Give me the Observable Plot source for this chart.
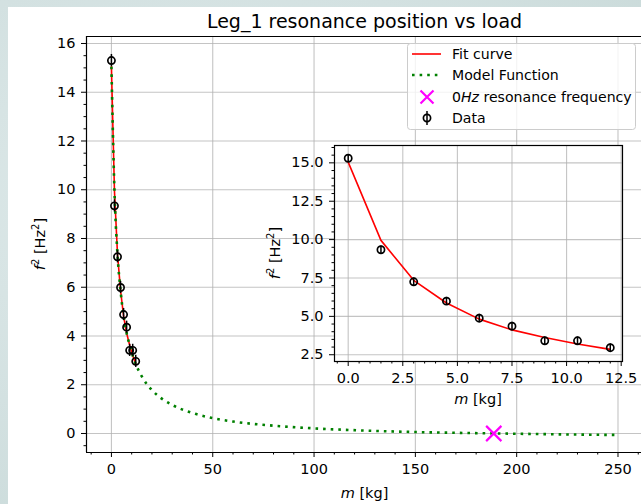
<!DOCTYPE html>
<html>
<head>
<meta charset="utf-8">
<script src="https://cdn.jsdelivr.net/npm/d3@7"></script>
<script src="https://cdn.jsdelivr.net/npm/@observablehq/plot@0.6"></script>
<style>
  html, body { margin: 0; padding: 0; }
  body {
    width: 641px; height: 504px; overflow: hidden; position: relative;
    background: radial-gradient(ellipse at 30% 40%, #dfeaea 0%, #d3e1e1 55%, #c8d9d8 100%);
    font-family: "DejaVu Sans", sans-serif;
  }
  #card { position: absolute; left: 8px; top: 7px; width: 633px; height: 497px; background: #ffffff; }
  .layer { position: absolute; left: 0; top: 0; }
</style>
</head>
<body>
<div id="card"></div>
<div id="main" class="layer"></div>
<div id="inset" class="layer"></div>
<script>
// ---------- data ----------
const mass = [0, 1.5, 3, 4.5, 6, 7.5, 9, 10.5, 12];                 // m [kg]
const f2 = [15.3, 9.34, 7.25, 5.99, 4.88, 4.36, 3.41, 3.41, 2.96];   // measured f^2 [Hz^2]
const f2Err = [0.25, 0.25, 0.25, 0.25, 0.25, 0.25, 0.25, 0.25, 0.25];
const fitF2 = [15.05, 9.95, 7.35, 5.87, 4.82, 4.12, 3.62, 3.2, 2.85]; // fit curve at data masses
const modelMass = [0, 1.5, 3, 4.5, 6, 7.5, 9, 10.5, 12, 15, 20, 25, 30, 40, 50, 60, 80, 100, 125, 150, 175, 200, 225, 250];
const modelF2 = [15.05, 9.95, 7.35, 5.87, 4.82, 4.12, 3.62, 3.2, 2.85, 2.34, 1.78, 1.42, 1.17, 0.84, 0.63, 0.49, 0.32, 0.21, 0.12, 0.06, 0.02, -0.01, -0.04, -0.06];
const zeroMass = [188.7];
const zeroF2 = [0];

const mainXTicks = [0, 50, 100, 150, 200, 250];
const mainYTicks = [0, 2, 4, 6, 8, 10, 12, 14, 16];
const insetXTicks = [0, 2.5, 5, 7.5, 10, 12.5];
const insetYTicks = [2.5, 5, 7.5, 10, 12.5, 15];

const titleText = "Leg_1 resonance position vs load";
const legendLabels = ["Fit curve", "Model Function", "resonance frequency", "Data"];

// ---------- derived tables ----------
const data = mass.map((m, i) => ({m, f: f2[i], e: f2Err[i]}));
const fit = mass.map((m, i) => ({m, f: fitF2[i]}));
const model = modelMass.map((m, i) => ({m, f: modelF2[i]}));
const zero = zeroMass.map((m, i) => ({m, f: zeroF2[i]}));

const W = 641, H = 504;
const FONT = "DejaVu Sans, sans-serif";
const FS = 14.5;
const LFS = 14.1;
const gridStyle = {stroke: "#b0b0b0", strokeOpacity: 0.75, strokeWidth: 1.1};

// ---------- main axes ----------
const mxDom = [-12.3, 261.6], myDom = [-0.78, 16.287];
const mainMinorX = d3.range(-10, 262, 10).filter(v => v % 50 !== 0);
const mainMinorY = d3.range(-0.5, 16.3, 0.5).filter(v => Math.abs(v % 2) > 1e-9);

const main = Plot.plot({
  width: W, height: H,
  marginLeft: 86, marginRight: 0, marginTop: 36, marginBottom: 52,
  style: {fontFamily: FONT, fontSize: FS + "px", background: "transparent", color: "#000", overflow: "visible"},
  x: {domain: mxDom, label: null},
  y: {domain: myDom, label: null},
  marks: [
    Plot.gridX(mainXTicks, gridStyle),
    Plot.gridY(mainYTicks, gridStyle),
    Plot.line(fit, {x: "m", y: "f", stroke: "#ff0000", strokeWidth: 1.6}),
    Plot.line(model, {x: "m", y: "f", stroke: "#008000", strokeWidth: 2.6, strokeDasharray: "2.6,5", strokeLinecap: "butt", curve: "monotone-x"}),
    Plot.dot(zero, {x: "m", y: "f", symbol: "times", r: 7, stroke: "#ff00ff", strokeWidth: 2.2}),
    Plot.ruleX(data, {x: "m", y1: d => d.f - d.e, y2: d => d.f + d.e, stroke: "#000", strokeWidth: 1.5}),
    Plot.dot(data, {x: "m", y: "f", r: 3.6, stroke: "#000", strokeWidth: 1.7}),
    Plot.ruleX([mxDom[0]], {stroke: "#000", strokeWidth: 1.2}),
    Plot.ruleY([myDom[0], myDom[1]], {stroke: "#000", strokeWidth: 1.2}),
    Plot.axisX(mainXTicks, {tickSize: 5, tickPadding: 6, stroke: "#000", fontSize: FS}),
    Plot.axisX(mainMinorX, {tickSize: 2.5, tickFormat: () => "", stroke: "#000"}),
    Plot.axisY(mainYTicks, {tickSize: 5, tickPadding: 6, stroke: "#000", fontSize: FS}),
    Plot.axisY(mainMinorY, {tickSize: 2.5, tickFormat: () => "", stroke: "#000"})
  ]
});
document.getElementById("main").appendChild(main);

const ms = d3.select(main);
ms.append("text").attr("x", 364.5).attr("y", 28).attr("text-anchor", "middle")
  .attr("font-size", 19).attr("font-family", FONT).attr("fill", "#000").text(titleText);

function massLabel(sel, x, y) {
  const t = sel.append("text").attr("x", x).attr("y", y).attr("text-anchor", "middle")
    .attr("font-size", FS).attr("font-family", FONT).attr("fill", "#000");
  t.append("tspan").attr("font-style", "italic").text("m");
  t.append("tspan").text(" [kg]");
}
function f2Label(sel, x, y) {
  const t = sel.append("text").attr("transform", `translate(${x},${y}) rotate(-90)`)
    .attr("text-anchor", "middle").attr("dy", "0.35em")
    .attr("font-size", FS).attr("font-family", FONT).attr("fill", "#000");
  t.append("tspan").attr("font-style", "italic").text("f");
  t.append("tspan").attr("dy", -6).attr("font-size", 10).text("2");
  t.append("tspan").attr("dy", 6).text(" [Hz");
  t.append("tspan").attr("dy", -6).attr("font-size", 10).text("2");
  t.append("tspan").attr("dy", 6).text("]");
}
massLabel(ms, 364.5, 498);
f2Label(ms, 40, 244);

// ---------- legend ----------
const lg = ms.append("g").attr("font-family", FONT).attr("font-size", LFS).attr("text-anchor", "start");
lg.append("rect").attr("x", 407.5).attr("y", 43.5).attr("width", 228).attr("height", 86).attr("rx", 3)
  .attr("fill", "#fff").attr("fill-opacity", 0.8).attr("stroke", "#cccccc");
const rows = [54, 75, 97, 118];
lg.append("line").attr("x1", 412).attr("x2", 441).attr("y1", rows[0]).attr("y2", rows[0]).attr("stroke", "#ff0000").attr("stroke-width", 1.6);
lg.append("line").attr("x1", 412).attr("x2", 441).attr("y1", rows[1]).attr("y2", rows[1]).attr("stroke", "#008000").attr("stroke-width", 2.6).attr("stroke-dasharray", "2.6,5");
lg.append("path").attr("d", `M${427 - 6.5},${rows[2] - 6.5}L${427 + 6.5},${rows[2] + 6.5}M${427 - 6.5},${rows[2] + 6.5}L${427 + 6.5},${rows[2] - 6.5}`)
  .attr("stroke", "#ff00ff").attr("stroke-width", 2.2).attr("fill", "none");
lg.append("line").attr("x1", 427).attr("x2", 427).attr("y1", rows[3] - 7).attr("y2", rows[3] + 7).attr("stroke", "#000").attr("stroke-width", 1.5);
lg.append("circle").attr("cx", 427).attr("cy", rows[3]).attr("r", 3.6).attr("fill", "none").attr("stroke", "#000").attr("stroke-width", 1.7);
rows.forEach((y, i) => {
  const t = lg.append("text").attr("x", 452).attr("y", y).attr("dy", "0.35em").attr("fill", "#000").attr("text-anchor", "start");
  if (i === 2) {
    t.append("tspan").text("0");
    t.append("tspan").attr("font-style", "italic").text("Hz");
    t.append("tspan").text(" " + legendLabels[i]);
  } else t.text(legendLabels[i]);
});

// ---------- inset axes ----------
const ixDom = [-0.627, 12.56], iyDom = [2.06, 16.13];
const insetMinorX = d3.range(-0.5, 12.6, 0.5).filter(v => Math.abs((v / 2.5) - Math.round(v / 2.5)) > 1e-9);
const insetMinorY = d3.range(2.5, 16.1, 0.5).filter(v => Math.abs((v / 2.5) - Math.round(v / 2.5)) > 1e-9);

const inset = Plot.plot({
  width: W, height: H,
  marginLeft: 334, marginRight: 19, marginTop: 145, marginBottom: 143,
  style: {fontFamily: FONT, fontSize: FS + "px", background: "transparent", color: "#000", overflow: "visible"},
  x: {domain: ixDom, label: null},
  y: {domain: iyDom, label: null},
  marks: [
    Plot.frame({fill: "#ffffff"}),
    Plot.gridX(insetXTicks, gridStyle),
    Plot.gridY(insetYTicks, gridStyle),
    Plot.line(fit, {x: "m", y: "f", stroke: "#ff0000", strokeWidth: 1.6}),
    Plot.ruleX(data, {x: "m", y1: d => d.f - d.e, y2: d => d.f + d.e, stroke: "#000", strokeWidth: 1.5}),
    Plot.dot(data, {x: "m", y: "f", r: 3.6, stroke: "#000", strokeWidth: 1.7}),
    Plot.frame({stroke: "#000", strokeWidth: 1.2}),
    Plot.axisX(insetXTicks, {tickSize: 5, tickPadding: 6, stroke: "#000", fontSize: FS, tickFormat: d3.format(".1f")}),
    Plot.axisX(insetMinorX, {tickSize: 2.5, tickFormat: () => "", stroke: "#000"}),
    Plot.axisY(insetYTicks, {tickSize: 5, tickPadding: 6, stroke: "#000", fontSize: FS, tickFormat: d3.format(".1f")}),
    Plot.axisY(insetMinorY, {tickSize: 2.5, tickFormat: () => "", stroke: "#000"})
  ]
});
document.getElementById("inset").appendChild(inset);
const is = d3.select(inset);
massLabel(is, 478, 404);
f2Label(is, 275, 253);
</script>
</body>
</html>
